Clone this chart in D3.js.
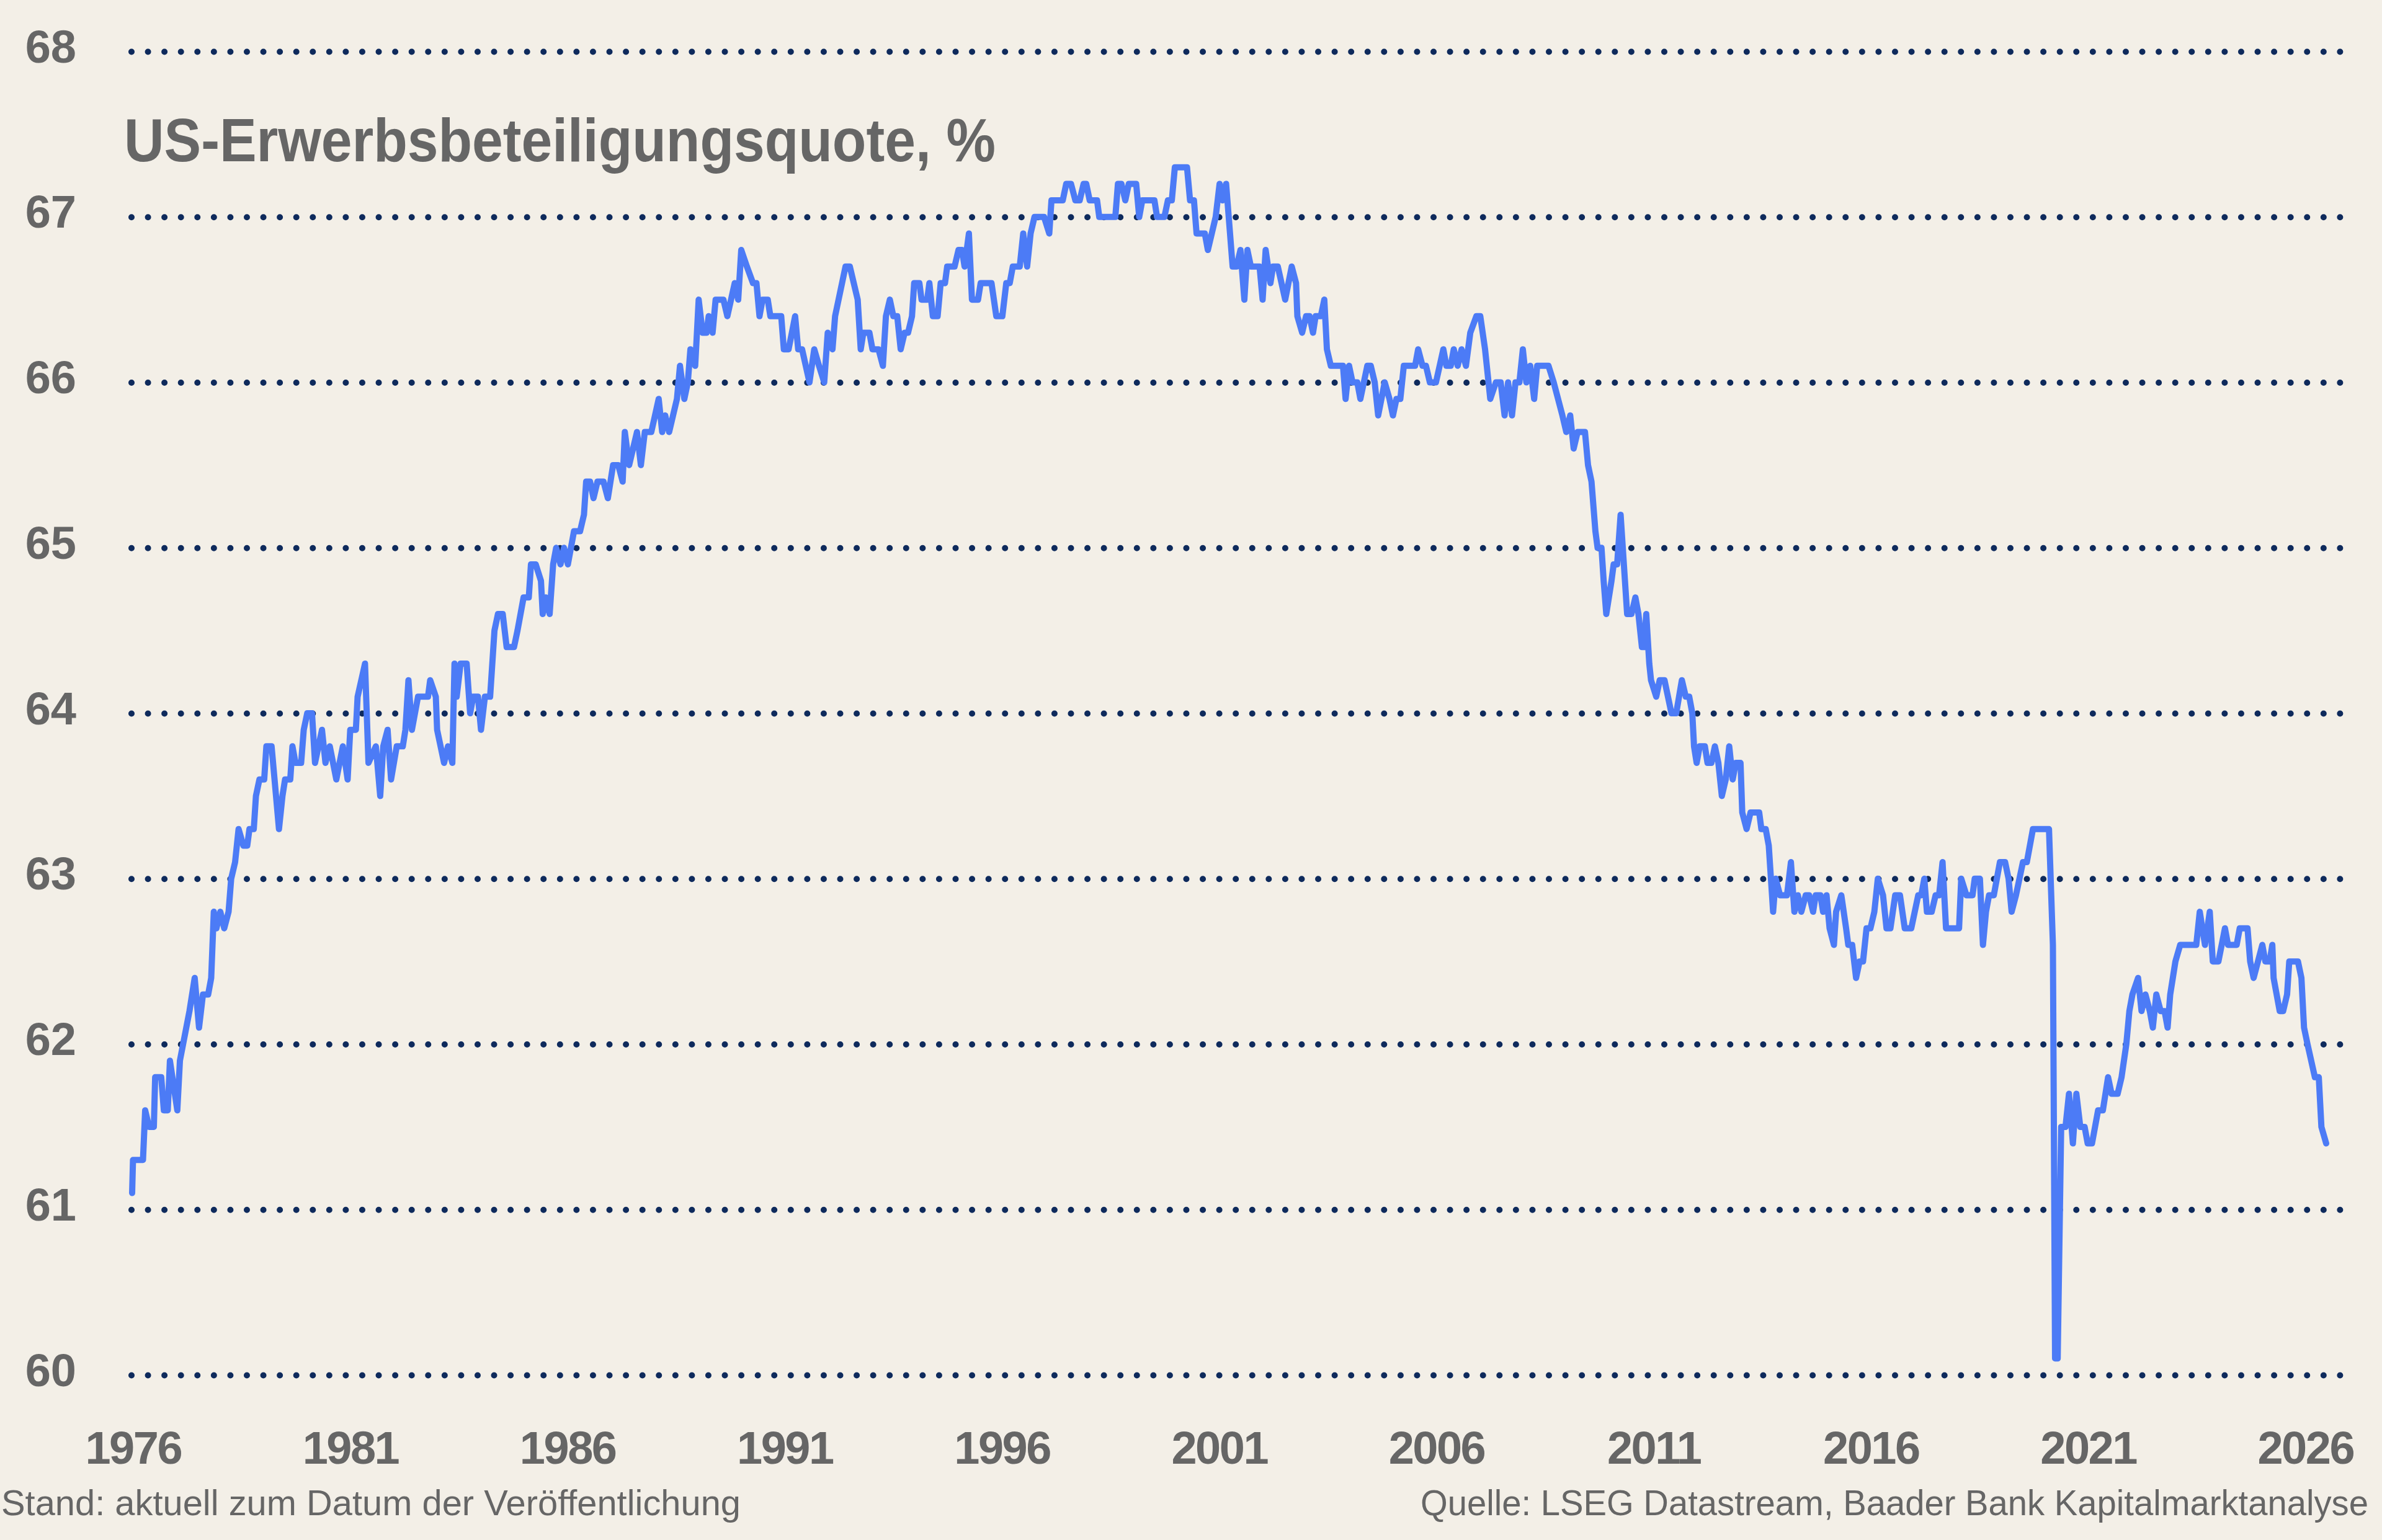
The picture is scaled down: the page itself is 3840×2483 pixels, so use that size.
<!DOCTYPE html>
<html>
<head>
<meta charset="utf-8">
<script src="https://cdnjs.cloudflare.com/ajax/libs/d3/7.8.5/d3.min.js"></script>
<style>
  body { margin: 0; background: #f3efe7; }
  svg { display: block; }
</style>
</head>
<body>
<div id="chart"></div>
<script>
// canvas
var svgWidth = 3840,
    svgHeight = 2483;

var gridLeft = 212,
    gridRight = 3773;

// tick labels
var yTicks = [60, 61, 62, 63, 64, 65, 66, 67, 68];
var yearTicks = [1976, 1981, 1986, 1991, 1996, 2001, 2006, 2011, 2016, 2021, 2026];

var obsDates = [
  1976.00,1976.02,1976.25,1976.30,1976.39,1976.50,1976.53,1976.67,1976.73,1976.82,
  1976.87,1977.04,1977.10,1977.32,1977.44,1977.54,1977.63,1977.75,1977.82,1977.88,
  1977.94,1978.03,1978.12,1978.22,1978.28,1978.37,1978.45,1978.56,1978.65,1978.70,
  1978.80,1978.85,1978.93,1979.04,1979.09,1979.21,1979.38,1979.46,1979.52,1979.64,
  1979.69,1979.76,1979.89,1979.95,1980.03,1980.14,1980.21,1980.37,1980.45,1980.55,
  1980.70,1980.85,1980.96,1981.02,1981.15,1981.19,1981.36,1981.44,1981.61,1981.71,
  1981.78,1981.88,1981.96,1982.09,1982.23,1982.29,1982.36,1982.44,1982.58,1982.81,
  1982.86,1982.99,1983.02,1983.18,1983.27,1983.37,1983.42,1983.47,1983.56,1983.70,
  1983.78,1983.85,1983.96,1984.03,1984.12,1984.24,
  1984.34,1984.42,1984.53,1984.62,1984.79,1984.87,1985.01,1985.13,1985.18,1985.29,
  1985.41,1985.45,1985.52,1985.61,1985.69,1985.76,1985.86,1985.94,1986.03,1986.17,
  1986.31,1986.40,1986.45,1986.54,1986.62,1986.71,1986.85,1986.95,1987.07,1987.19,
  1987.29,1987.34,1987.44,1987.62,1987.71,1987.80,1987.95,1988.12,1988.20,1988.27,
  1988.36,1988.54,1988.61,1988.71,1988.79,1988.85,1988.96,1989.04,1989.13,1989.22,
  1989.27,1989.36,1989.43,1989.61,1989.70,1989.87,1989.95,1990.02,1990.15,1990.29,
  1990.37,1990.44,1990.51,1990.63,1990.69,1990.94,1991.00,1991.11,1991.26,1991.33,
  1991.42,1991.59,1991.70,1991.81,1991.93,1992.01,1992.12,1992.18,1992.42,1992.52,
  1992.70,1992.77,1992.83,1992.97,
  1993.04,1993.18,1993.28,1993.35,1993.44,1993.52,1993.61,1993.69,1993.78,1993.86,
  1993.95,1994.00,1994.12,1994.17,1994.30,1994.35,1994.43,1994.54,1994.61,1994.71,
  1994.76,1994.93,1995.02,1995.10,1995.16,1995.26,1995.33,1995.47,1995.53,1995.78,
  1995.89,1996.03,1996.12,1996.20,1996.27,1996.43,1996.51,1996.60,1996.68,1996.77,
  1996.99,1997.11,1997.16,1997.42,1997.50,1997.61,1997.71,1997.81,1997.90,1997.96,
  1998.04,1998.21,1998.26,1998.63,1998.69,1998.77,1998.86,1998.94,1999.11,1999.18,
  1999.25,1999.53,1999.59,1999.76,1999.84,1999.93,2000.00,2000.28,2000.35,2000.44,
  2000.50,2000.69,2000.76,2000.94,2001.03,2001.10,2001.18,2001.33,2001.42,
  2001.51,2001.60,2001.67,2001.75,2001.95,2002.02,2002.09,2002.20,2002.26,2002.37,
  2002.54,2002.69,2002.79,2002.82,2002.93,2003.02,2003.10,2003.18,2003.24,2003.36,
  2003.44,2003.50,2003.59,2003.87,2003.93,2004.01,2004.09,2004.20,2004.27,2004.43,
  2004.51,2004.60,2004.68,2004.83,2004.94,2005.02,2005.10,2005.19,2005.27,2005.53,
  2005.60,2005.70,2005.78,2005.87,2006.01,2006.18,2006.25,2006.35,2006.42,2006.51,
  2006.60,2006.70,2006.80,2006.94,2007.03,2007.14,2007.22,2007.26,2007.39,2007.50,
  2007.59,2007.67,2007.76,2007.84,2007.93,2008.01,2008.09,2008.18,2008.27,2008.34,
  2008.60,2008.72,2008.92,2009.01,2009.10,2009.18,2009.27,2009.44,2009.51,2009.59,
  2009.68,2009.73,2009.82,2009.87,2009.93,
  2010.05,2010.10,2010.18,2010.26,2010.31,2010.41,2010.51,2010.60,2010.67,2010.75,
  2010.80,2010.85,2010.92,2010.96,2011.08,2011.16,2011.27,2011.43,2011.54,2011.67,
  2011.76,2011.84,2011.91,2011.95,2012.01,2012.08,2012.20,2012.26,2012.35,2012.43,
  2012.51,2012.59,2012.68,2012.76,2012.84,2012.91,2013.02,2013.06,2013.16,2013.25,
  2013.45,2013.50,2013.60,2013.67,2013.72,2013.77,2013.83,2013.93,2014.09,2014.18,
  2014.26,2014.34,2014.42,2014.52,2014.60,2014.69,2014.75,2014.86,2014.92,2015.00,
  2015.07,2015.17,2015.22,2015.34,2015.45,2015.50,2015.59,2015.68,2015.76,2015.84,
  2015.92,2016.01,2016.10,2016.18,2016.30,2016.38,2016.47,2016.58,2016.69,2016.80,
  2016.95,2017.11,2017.18,2017.25,2017.31,2017.42,2017.51,2017.59,2017.67,2017.75,
  2018.05,2018.10,2018.22,2018.36,2018.41,2018.53,
  2018.60,2018.67,2018.74,2018.85,2018.99,2019.11,2019.19,2019.26,2019.36,2019.52,
  2019.61,2019.75,2020.12,2020.21,2020.26,2020.32,2020.40,2020.50,2020.58,2020.67,
  2020.75,2020.84,2020.94,2021.01,2021.11,2021.25,2021.36,2021.48,2021.56,2021.70,
  2021.79,2021.90,2021.97,2022.04,2022.17,2022.25,2022.34,2022.44,2022.51,2022.59,
  2022.69,2022.78,2022.85,2022.91,2023.03,2023.14,2023.51,2023.59,2023.71,2023.82,
  2023.89,2024.02,2024.17,2024.24,2024.44,2024.51,2024.69,2024.75,2024.83,2025.03,
  2025.10,2025.20,2025.26,2025.29,2025.43,2025.51,2025.60,2025.65,2025.85,2025.93,
  2025.99,2026.07,2026.24,2026.33,2026.39,2026.50
];

var obsValues = [
  61.1,61.3,61.3,61.6,61.5,61.5,61.8,61.8,61.6,61.6,
  61.9,61.6,61.9,62.2,62.4,62.1,62.3,62.3,62.4,62.8,
  62.7,62.8,62.7,62.8,63.0,63.1,63.3,63.2,63.2,63.3,
  63.3,63.5,63.6,63.6,63.8,63.8,63.3,63.5,63.6,63.6,
  63.8,63.7,63.7,63.9,64.0,64.0,63.7,63.9,63.7,63.8,
  63.6,63.8,63.6,63.9,63.9,64.1,64.3,63.7,63.8,63.5,
  63.8,63.9,63.6,63.8,63.8,63.9,64.2,63.9,64.1,64.1,
  64.2,64.1,63.9,63.7,63.8,63.7,64.3,64.1,64.3,64.3,
  64.0,64.1,64.1,63.9,64.1,64.1,
  64.5,64.6,64.6,64.4,64.4,64.5,64.7,64.7,64.9,64.9,
  64.8,64.6,64.7,64.6,64.9,65.0,64.9,65.0,64.9,65.1,
  65.1,65.2,65.4,65.4,65.3,65.4,65.4,65.3,65.5,65.5,
  65.4,65.7,65.5,65.7,65.5,65.7,65.7,65.9,65.7,65.8,
  65.7,65.9,66.1,65.9,66.0,66.2,66.1,66.5,66.3,66.3,
  66.4,66.3,66.5,66.5,66.4,66.6,66.5,66.8,66.7,66.6,
  66.6,66.4,66.5,66.5,66.4,66.4,66.2,66.2,66.4,66.2,
  66.2,66.0,66.2,66.1,66.0,66.3,66.2,66.4,66.7,66.7,
  66.5,66.2,66.3,66.3,
  66.2,66.2,66.1,66.4,66.5,66.4,66.4,66.2,66.3,66.3,
  66.4,66.6,66.6,66.5,66.5,66.6,66.4,66.4,66.6,66.6,
  66.7,66.7,66.8,66.8,66.7,66.9,66.5,66.5,66.6,66.6,
  66.4,66.4,66.6,66.6,66.7,66.7,66.9,66.7,66.9,67.0,
  67.0,66.9,67.1,67.1,67.2,67.2,67.1,67.1,67.2,67.2,
  67.1,67.1,67.0,67.0,67.2,67.2,67.1,67.2,67.2,67.0,
  67.1,67.1,67.0,67.0,67.1,67.1,67.3,67.3,67.1,67.1,
  66.9,66.9,66.8,67.0,67.2,67.1,67.2,66.7,66.7,
  66.8,66.5,66.8,66.7,66.7,66.5,66.8,66.6,66.7,66.7,
  66.5,66.7,66.6,66.4,66.3,66.4,66.4,66.3,66.4,66.4,
  66.5,66.2,66.1,66.1,65.9,66.1,66.0,66.0,65.9,66.1,
  66.1,66.0,65.8,66.0,65.9,65.8,65.9,65.9,66.1,66.1,
  66.2,66.1,66.1,66.0,66.0,66.2,66.1,66.1,66.2,66.1,
  66.2,66.1,66.3,66.4,66.4,66.2,66.0,65.9,66.0,66.0,
  65.8,66.0,65.8,66.0,66.0,66.2,66.0,66.1,65.9,66.1,
  66.1,66.0,65.8,65.7,65.8,65.6,65.7,65.7,65.5,65.4,
  65.1,65.0,65.0,64.8,64.6,
  64.8,64.9,64.9,65.2,65.0,64.6,64.6,64.7,64.6,64.4,
  64.4,64.6,64.3,64.2,64.1,64.2,64.2,64.0,64.0,64.2,
  64.1,64.1,64.0,63.8,63.7,63.8,63.8,63.7,63.7,63.8,
  63.7,63.5,63.6,63.8,63.6,63.7,63.7,63.4,63.3,63.4,
  63.4,63.3,63.3,63.2,63.0,62.8,63.0,62.9,62.9,63.1,
  62.8,62.9,62.8,62.9,62.9,62.8,62.9,62.9,62.8,62.9,
  62.7,62.6,62.8,62.9,62.7,62.6,62.6,62.4,62.5,62.5,
  62.7,62.7,62.8,63.0,62.9,62.7,62.7,62.9,62.9,62.7,
  62.7,62.9,62.9,63.0,62.8,62.8,62.9,62.9,63.1,62.7,
  62.7,63.0,62.9,62.9,63.0,63.0,
  62.6,62.8,62.9,62.9,63.1,63.1,63.0,62.8,62.9,63.1,
  63.1,63.3,63.3,62.6,60.1,60.1,61.5,61.5,61.7,61.4,
  61.7,61.5,61.5,61.4,61.4,61.6,61.6,61.8,61.7,61.7,
  61.8,62.0,62.2,62.3,62.4,62.2,62.3,62.2,62.1,62.3,
  62.2,62.2,62.1,62.3,62.5,62.6,62.6,62.8,62.6,62.8,
  62.5,62.5,62.7,62.6,62.6,62.7,62.7,62.5,62.4,62.6,
  62.5,62.5,62.6,62.4,62.2,62.2,62.3,62.5,62.5,62.4,
  62.1,62.0,61.8,61.8,61.5,61.4
];

var data = obsDates.map((t, i) => ({ t: t, v: obsValues[i] }));

var labelFont = '"Liberation Sans", Arial, sans-serif';

// svg wrapper
var svg = d3.select('#chart')
  .append('svg')
  .attr('width', svgWidth)
  .attr('height', svgHeight);

svg.append('rect')
  .attr('width', svgWidth)
  .attr('height', svgHeight)
  .attr('fill', '#f3efe7');

// scales
var xScale = d3.scaleLinear().domain([1976, 2026]).range([213, 3715]);
var yScale = d3.scaleLinear().domain([60, 68]).range([2217, 83]);

// y axis: labels plus dotted grid lines
var yAxis = d3.axisLeft(yScale)
  .tickValues(yTicks)
  .tickFormat(d3.format('d'))
  .tickSize(-(gridRight - gridLeft))
  .tickPadding(gridLeft - 123);

var yAxisG = svg.append('g')
  .attr('transform', `translate(${gridLeft},0)`)
  .call(yAxis)
  .attr('font-family', labelFont)
  .attr('font-size', 74)
  .attr('font-weight', 'bold');

yAxisG.select('.domain').remove();

yAxisG.selectAll('.tick line')
  .attr('stroke', '#0e2a5c')
  .attr('stroke-width', 10)
  .attr('stroke-linecap', 'round')
  .attr('stroke-dasharray', '0 26.57');

yAxisG.selectAll('.tick text')
  .attr('fill', '#666666')
  .attr('dy', '0.23em');

// x axis: year labels only
var xAxis = d3.axisBottom(xScale)
  .tickValues(yearTicks)
  .tickFormat(d3.format('d'))
  .tickSize(0)
  .tickPadding(0);

var xAxisG = svg.append('g')
  .attr('transform', 'translate(0,2307)')
  .call(xAxis)
  .attr('font-family', labelFont)
  .attr('font-size', 74)
  .attr('font-weight', 'bold');

xAxisG.select('.domain').remove();
xAxisG.selectAll('.tick line').remove();

xAxisG.selectAll('.tick text')
  .attr('fill', '#666666')
  .attr('letter-spacing', -2.5)
  .attr('dx', 1.25);

// the series
var line = d3.line()
  .x(d => xScale(d.t))
  .y(d => yScale(d.v));

svg.append('path')
  .datum(data)
  .attr('d', line)
  .attr('fill', 'none')
  .attr('stroke', '#4c7bf6')
  .attr('stroke-width', 10)
  .attr('stroke-linejoin', 'round')
  .attr('stroke-linecap', 'round');

// title
svg.append('text')
  .attr('x', 200)
  .attr('y', 260)
  .attr('font-family', labelFont)
  .attr('font-size', 98)
  .attr('font-weight', 'bold')
  .attr('fill', '#666666')
  .attr('textLength', 1405)
  .attr('lengthAdjust', 'spacingAndGlyphs')
  .text('US-Erwerbsbeteiligungsquote, %');

// footer
svg.append('text')
  .attr('x', 2)
  .attr('y', 2443)
  .attr('font-family', labelFont)
  .attr('font-size', 58)
  .attr('fill', '#666666')
  .attr('textLength', 1192)
  .attr('lengthAdjust', 'spacingAndGlyphs')
  .text('Stand: aktuell zum Datum der Veröffentlichung');

svg.append('text')
  .attr('x', 3818)
  .attr('y', 2443)
  .attr('text-anchor', 'end')
  .attr('font-family', labelFont)
  .attr('font-size', 58)
  .attr('fill', '#666666')
  .attr('textLength', 1528)
  .attr('lengthAdjust', 'spacingAndGlyphs')
  .text('Quelle: LSEG Datastream, Baader Bank Kapitalmarktanalyse');
</script>
</body>
</html>
